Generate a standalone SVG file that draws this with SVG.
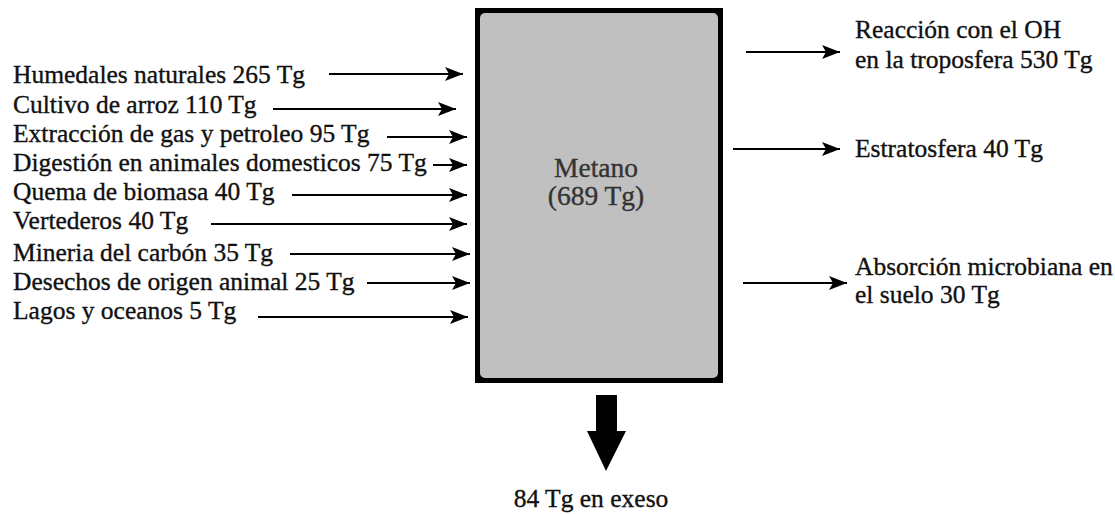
<svg xmlns="http://www.w3.org/2000/svg" width="1115" height="514" viewBox="0 0 1115 514">
<style>
text{font-family:"Liberation Serif","Times New Roman",serif;font-size:25.5px;fill:#111;stroke:#111;stroke-width:0.35}
.c{stroke:#000;stroke-width:2;fill:none;marker-end:url(#ah)}
.m{font-size:27.5px;fill:#333;stroke:#333;text-anchor:middle}
</style>
<defs>
<marker id="ah" markerUnits="userSpaceOnUse" markerWidth="20" markerHeight="16" viewBox="-18 -8 20 16" refX="0" refY="0" orient="auto">
<path d="M0,0 L-18,-7 L-14,0 L-18,7 Z" fill="#000"/>
</marker>
</defs>
<rect width="1115" height="514" fill="#fff"/>
<g id="metano">
<rect x="475" y="8" width="248" height="375" fill="#000"/>
<rect x="480" y="13" width="238" height="365" rx="5" fill="#c0c0c0"/>
<text class="m" x="596" y="177">Metano</text>
<text class="m" x="596" y="205">(689 Tg)</text>
</g>
<g id="fuentes">
<text x="13" y="83">Humedales naturales 265 Tg</text>
<text x="13" y="113">Cultivo de arroz 110 Tg</text>
<text x="13" y="142">Extracción de gas y petroleo 95 Tg</text>
<text x="13" y="171">Digestión en animales domesticos 75 Tg</text>
<text x="13" y="200">Quema de biomasa 40 Tg</text>
<text x="13" y="229">Vertederos 40 Tg</text>
<text x="13" y="261">Mineria del carbón 35 Tg</text>
<text x="13" y="290">Desechos de origen animal 25 Tg</text>
<text x="13" y="319">Lagos y oceanos 5 Tg</text>
</g>
<g id="sumideros">
<text x="855" y="38">Reacción con el OH</text>
<text x="855" y="68">en la troposfera 530 Tg</text>
<text x="855" y="157">Estratosfera 40 Tg</text>
<text x="855" y="275">Absorción microbiana en</text>
<text x="855" y="303">el suelo 30 Tg</text>
</g>
<g id="exceso">
<text x="591" y="507" text-anchor="middle">84 Tg en exeso</text>
</g>
<g id="connectors">
<line class="c" x1="329" y1="74" x2="463" y2="74"/>
<line class="c" x1="273" y1="109" x2="456" y2="109"/>
<line class="c" x1="387" y1="137" x2="467" y2="137"/>
<line class="c" x1="433" y1="165" x2="467" y2="165"/>
<line class="c" x1="292" y1="195" x2="467" y2="195"/>
<line class="c" x1="211" y1="224" x2="467" y2="224"/>
<line class="c" x1="290" y1="254" x2="470" y2="254"/>
<line class="c" x1="367" y1="283" x2="470" y2="283"/>
<line class="c" x1="258" y1="317" x2="468" y2="317"/>
<line class="c" x1="746" y1="52" x2="840" y2="52"/>
<line class="c" x1="733" y1="149" x2="840" y2="149"/>
<line class="c" x1="743" y1="283" x2="847" y2="283"/>
<path d="M596,395 H617 V431 H626 L606,471 L587,431 H596 Z" fill="#000"/>
</g>
</svg>
